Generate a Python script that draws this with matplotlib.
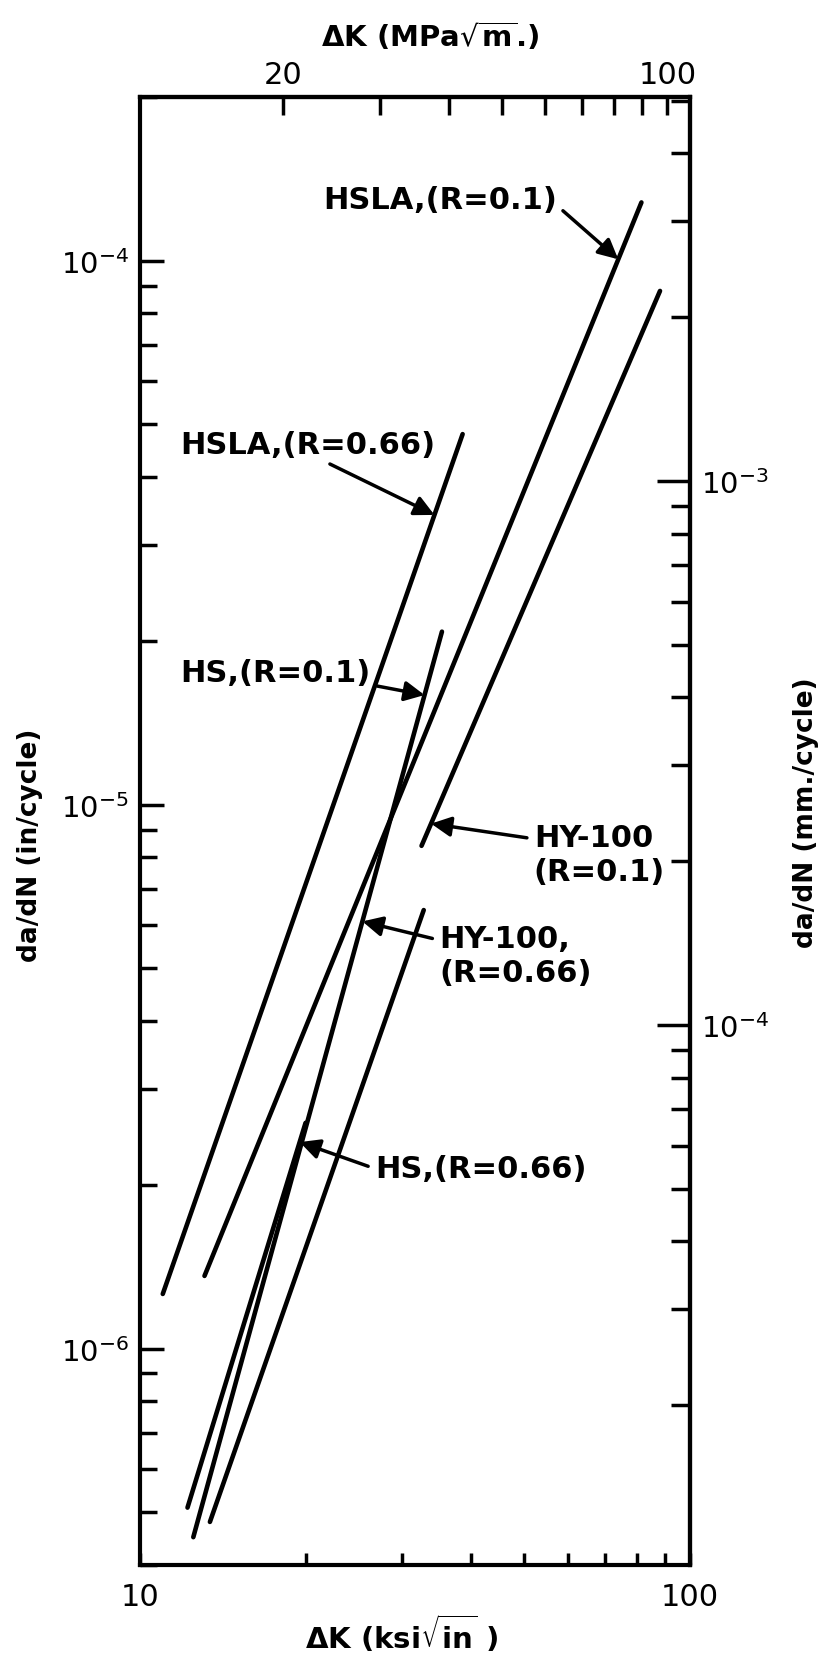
import numpy as np
import matplotlib
matplotlib.use('Agg')
import matplotlib.pyplot as plt
from matplotlib.ticker import LogLocator, NullFormatter, FixedLocator

plt.rcParams['font.family'] = ['DejaVu Sans']
plt.rcParams['mathtext.fontset'] = 'dejavusans'

# crack growth lines: end points (dK in ksi*sqrt(in), da/dN in in/cycle)
series = ['HSLA,(R=0.1)', 'HSLA,(R=0.66)', 'HS,(R=0.1)',
          'HS,(R=0.66)', 'HY-100\n(R=0.1)', 'HY-100,\n(R=0.66)']
k_lo = [13.1, 11.0, 12.5, 12.2, 32.5, 13.4]
k_hi = [81.6, 38.6, 35.4, 20.0, 88.2, 32.8]
rate_lo = [1.36e-6, 1.26e-6, 4.5e-7, 5.1e-7, 8.4e-6, 4.8e-7]
rate_hi = [1.28e-4, 4.8e-5, 2.08e-5, 2.6e-6, 8.8e-5, 6.4e-6]

# label placement (axes fraction), which line each arrow lands on and how far along it
label_xy = [(0.333, 0.930), (0.073, 0.763), (0.073, 0.608),
            (0.427, 0.270), (0.716, 0.484), (0.544, 0.415)]
arrow_line = [0, 1, 2, 3, 4, 2]
arrow_at = [0.947, 0.906, 0.93, 0.95, 0.04, 0.68]
arrow_from = [(1.0, 0.3), (0.55, 0.0), (0.9, 0.2), (0.0, 0.5), (0.0, 0.75), (0.0, 0.75)]

fig = plt.figure(figsize=(8.25, 16.58), dpi=100)
ax = fig.add_axes([140/825, 1 - 1566/1658, 550/825, 1468/1658])
ax.set_xscale('log')
ax.set_yscale('log')
ax.set_xlim(10, 100)
ax.set_ylim(4.0e-7, 2.0e-4)

for i in range(len(series)):
    ax.plot([k_lo[i], k_hi[i]], [rate_lo[i], rate_hi[i]], color='k', lw=3.3,
            solid_capstyle='round')

for i, name in enumerate(series):
    j = arrow_line[i]
    t = arrow_at[i]
    kt = 10 ** (np.log10(k_lo[j]) + t * (np.log10(k_hi[j]) - np.log10(k_lo[j])))
    rt = 10 ** (np.log10(rate_lo[j]) + t * (np.log10(rate_hi[j]) - np.log10(rate_lo[j])))
    ax.annotate(name, xy=(kt, rt), xytext=label_xy[i], textcoords='axes fraction',
                ha='left', va='center', fontsize=22, fontweight='bold',
                linespacing=1.2,
                arrowprops=dict(arrowstyle='-|>', color='k', lw=2.5,
                                mutation_scale=30, shrinkA=3, shrinkB=0,
                                relpos=arrow_from[i]))

for s in ax.spines.values():
    s.set_linewidth(3)

# bottom axis (ksi sqrt in)
ax.set_xticks([10, 100])
ax.set_xticklabels(['10', '100'])
ax.xaxis.set_minor_locator(FixedLocator([20, 30, 40, 50, 60, 70, 80, 90]))
ax.xaxis.set_minor_formatter(NullFormatter())
ax.tick_params(axis='x', which='both', direction='in', length=9, width=2.5,
               top=False, labelsize=22, pad=12)

# left axis (in/cycle)
ax.yaxis.set_major_locator(FixedLocator([1e-6, 1e-5, 1e-4]))
ax.yaxis.set_minor_locator(LogLocator(base=10, subs=np.arange(2, 10)))
ax.yaxis.set_minor_formatter(NullFormatter())
ax.tick_params(axis='y', which='major', direction='in', length=17, width=2.5,
               right=False, labelsize=21, pad=8)
ax.tick_params(axis='y', which='minor', direction='in', length=12, width=2.5,
               right=False)

# top axis (MPa sqrt m)
top = ax.secondary_xaxis('top', functions=(lambda k: k * 1.0988, lambda m: m / 1.0988))
top.xaxis.set_major_locator(FixedLocator([20, 100]))
top.set_xticklabels(['20', '100'])
top.xaxis.set_minor_locator(FixedLocator([30, 40, 50, 60, 70, 80, 90]))
top.xaxis.set_minor_formatter(NullFormatter())
top.tick_params(which='both', direction='in', length=13, width=2.5, labelsize=22, pad=6)
top.spines['top'].set_linewidth(3)

# right axis (mm/cycle)
right = ax.secondary_yaxis('right', functions=(lambda r: r * 25.4, lambda r: r / 25.4))
right.yaxis.set_major_locator(FixedLocator([1e-4, 1e-3]))
right.yaxis.set_minor_locator(LogLocator(base=10, subs=np.arange(2, 10)))
right.yaxis.set_minor_formatter(NullFormatter())
right.tick_params(which='major', direction='in', length=24, width=2.5, labelsize=21, pad=8)
right.tick_params(which='minor', direction='in', length=14, width=2.5)
right.spines['right'].set_linewidth(3)

fig.text(430/825, 1 - 37/1658, r'ΔK (MPa$\sqrt{\mathbf{m}}$.)', ha='center', va='center',
         fontsize=21, fontweight='bold')
fig.text(402/825, 1 - 1634/1658, r'ΔK (ksi$\sqrt{\mathbf{in}}$ )', ha='center', va='center',
         fontsize=21, fontweight='bold')
fig.text(30/825, 1 - 845/1658, 'da/dN (in/cycle)', rotation=90, ha='center', va='center',
         fontsize=19, fontweight='bold')
fig.text(806/825, 1 - 813/1658, 'da/dN (mm./cycle)', rotation=90, ha='center', va='center',
         fontsize=19, fontweight='bold')

fig.savefig('out.png', dpi=100)
